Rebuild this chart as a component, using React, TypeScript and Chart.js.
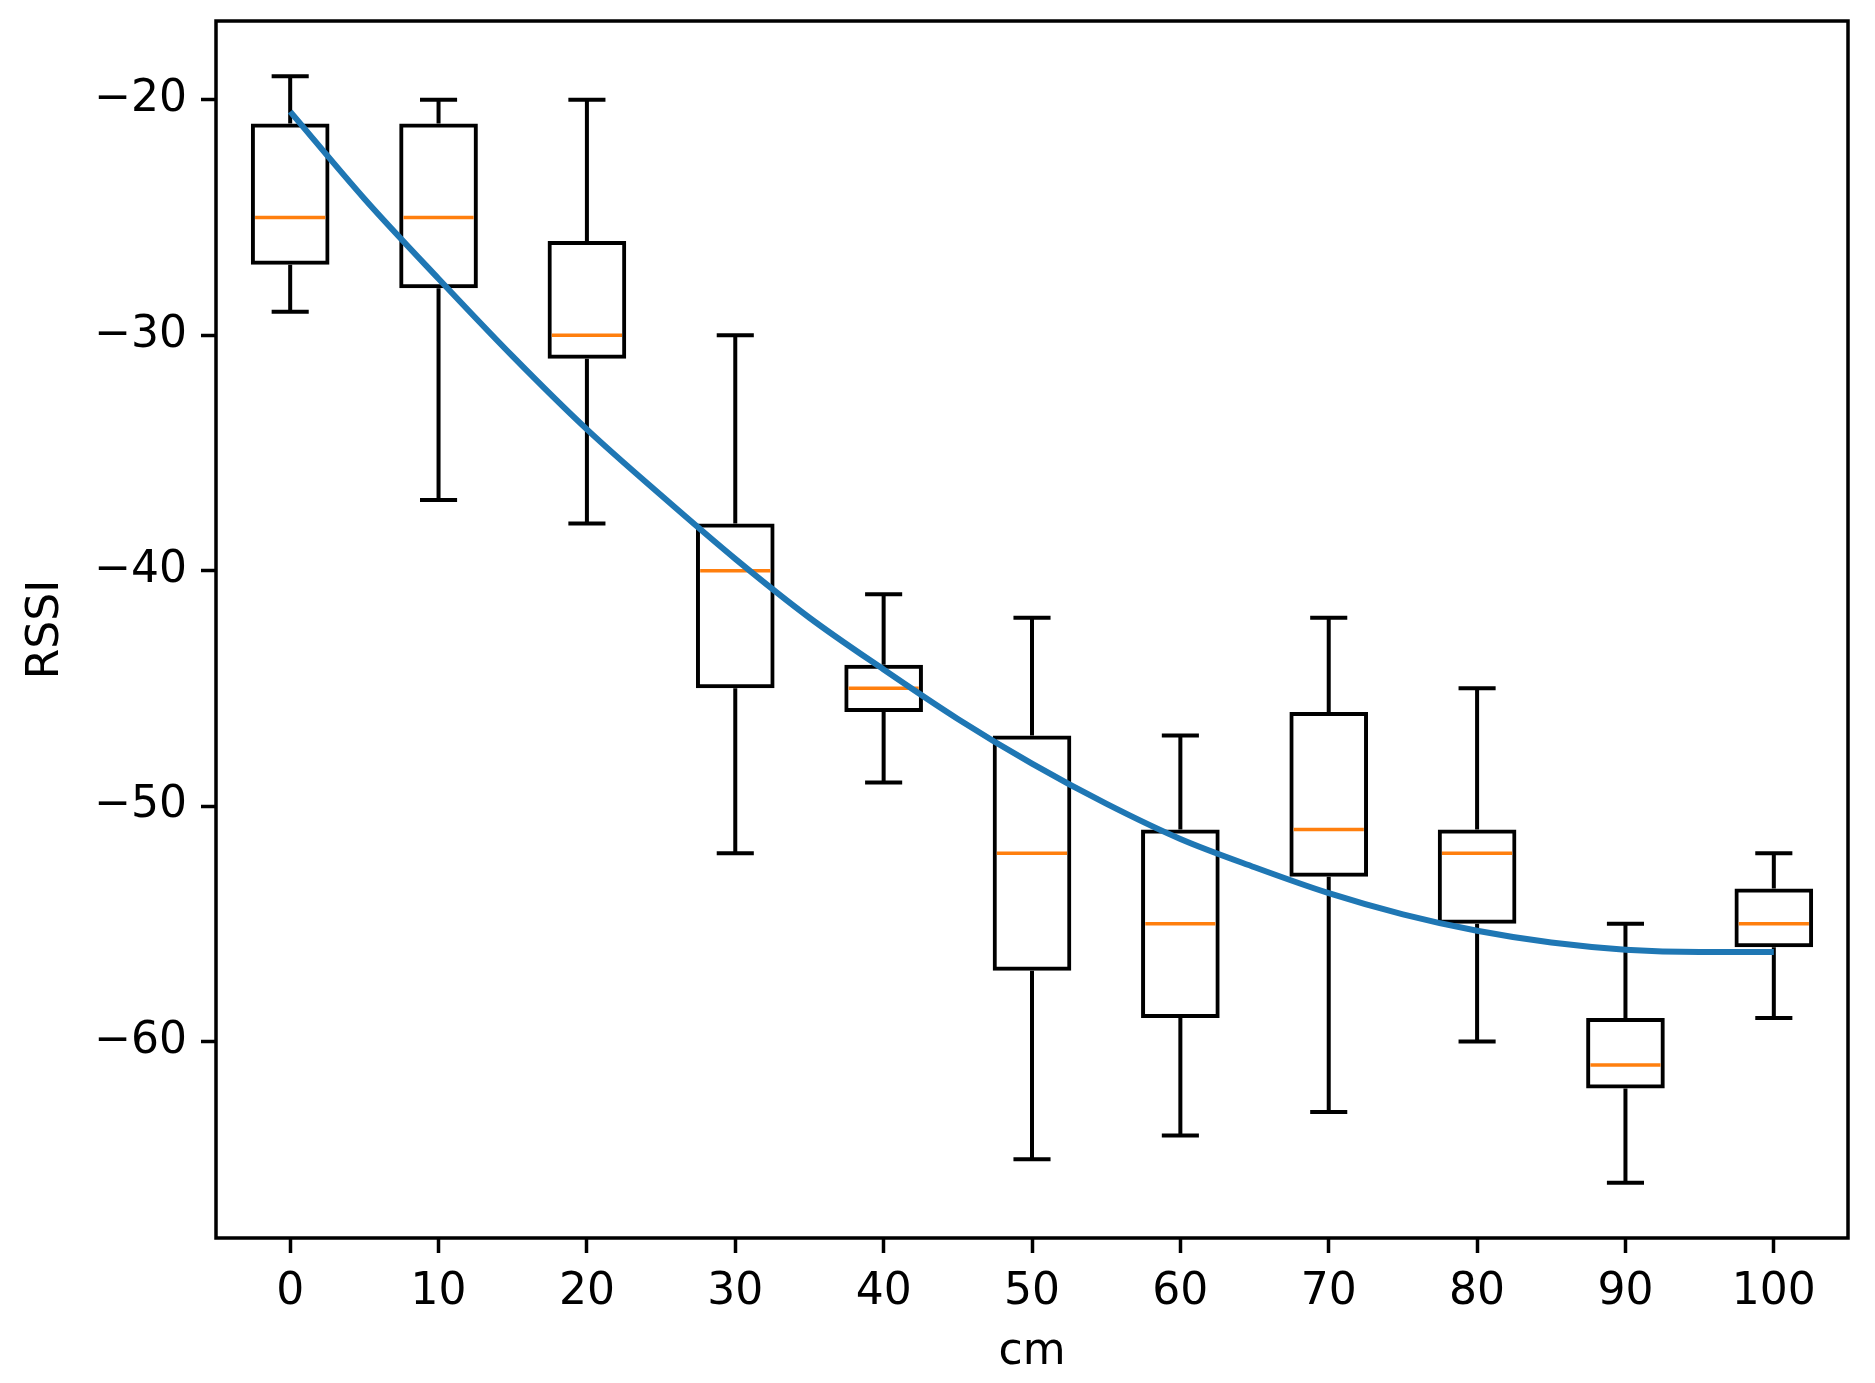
import React, { useEffect, useRef } from 'react';
import { Chart, registerables } from 'chart.js';

Chart.register(...registerables);

// distance categories (cm)
const distances = [0, 10, 20, 30, 40, 50, 60, 70, 80, 90, 100];
// box plot statistics (RSSI)
const whiskerHigh = [-19, -20, -20, -30, -41, -42, -47, -42, -45, -55, -52];
const q3 = [-21, -21, -26, -38, -44, -47, -51, -46, -51, -59, -53.5];
const medians = [-25, -25, -30, -40, -45, -52, -55, -51, -52, -61, -55];
const q1 = [-27, -28, -31, -45, -46, -57, -59, -53, -55, -62, -56];
const whiskerLow = [-29, -37, -38, -52, -49, -65, -64, -63, -60, -66, -59];

// fitted curve
const fitX = [0, 5, 10, 15, 20, 25, 30, 35, 40, 45, 50, 55, 60, 65, 70, 75, 80, 85, 90, 95, 100];
const fitY = [-20.5, -24.2, -27.6, -30.9, -34.0, -36.8, -39.5, -42.0, -44.2, -46.3, -48.2, -49.9, -51.4, -52.6, -53.7, -54.6, -55.3, -55.8, -56.1, -56.2, -56.2];

const xTicks = [0, 10, 20, 30, 40, 50, 60, 70, 80, 90, 100];
const yTicks = [-60, -50, -40, -30, -20];

const FONT = 'DejaVu Sans';
const FS = 44;

const boxPlugin = {
  id: 'boxWhiskers',
  afterDatasetDraw(chart: any, args: any) {
    if (args.index !== 0) return;
    const ctx = chart.ctx;
    const xs = chart.scales.x;
    const ys = chart.scales.y;
    const boxHalf = xs.getPixelForValue(2.5) - xs.getPixelForValue(0);
    const capHalf = xs.getPixelForValue(1.25) - xs.getPixelForValue(0);
    ctx.save();
    ctx.lineCap = 'butt';
    for (let i = 0; i < distances.length; i++) {
      const cx = xs.getPixelForValue(distances[i]);
      const yHi = ys.getPixelForValue(whiskerHigh[i]);
      const yQ3 = ys.getPixelForValue(q3[i]);
      const yQ1 = ys.getPixelForValue(q1[i]);
      const yLo = ys.getPixelForValue(whiskerLow[i]);
      const yMed = ys.getPixelForValue(medians[i]);
      ctx.strokeStyle = '#000';
      ctx.lineWidth = 4;
      ctx.beginPath();
      ctx.moveTo(cx, yQ3);
      ctx.lineTo(cx, yHi);
      ctx.moveTo(cx, yQ1);
      ctx.lineTo(cx, yLo);
      ctx.moveTo(cx - capHalf, yHi);
      ctx.lineTo(cx + capHalf, yHi);
      ctx.moveTo(cx - capHalf, yLo);
      ctx.lineTo(cx + capHalf, yLo);
      ctx.stroke();
      ctx.strokeStyle = '#ff7f0e';
      ctx.lineWidth = 3.5;
      ctx.beginPath();
      ctx.moveTo(cx - boxHalf + 2, yMed);
      ctx.lineTo(cx + boxHalf - 2, yMed);
      ctx.stroke();
    }
    ctx.restore();
  },
};

const framePlugin = {
  id: 'frame',
  afterDraw(chart: any) {
    const { left, top, right, bottom } = chart.chartArea;
    const ctx = chart.ctx;
    ctx.save();
    ctx.strokeStyle = '#000';
    ctx.lineWidth = 3.5;
    ctx.strokeRect(left, top, right - left, bottom - top);
    ctx.restore();
  },
};

const fmt = (v: any) => String(v).replace('-', '\u2212');

export default function App() {
  const ref = useRef<HTMLCanvasElement | null>(null);
  useEffect(() => {
    if (!ref.current) return;
    const chart = new Chart(ref.current, {
      type: 'bar',
      data: {
        datasets: [
          {
            type: 'bar',
            order: 1,
            data: distances.map((d, i) => ({ x: d, y: [q1[i], q3[i]] })) as any,
            backgroundColor: 'rgba(0,0,0,0)',
            borderColor: '#000',
            borderWidth: 4,
            borderSkipped: false,
            barPercentage: 0.53,
            categoryPercentage: 1,
          } as any,
          {
            type: 'line',
            order: 0,
            data: fitX.map((x, i) => ({ x, y: fitY[i] })) as any,
            borderColor: '#1f77b4',
            borderWidth: 6,
            pointRadius: 0,
            fill: false,
            cubicInterpolationMode: 'monotone',
          } as any,
        ],
      },
      options: {
        animation: false,
        responsive: true,
        maintainAspectRatio: false,
        devicePixelRatio: 1,
        layout: { padding: { left: 0, top: 21, right: 27, bottom: 0 } },
        plugins: { legend: { display: false }, tooltip: { enabled: false } },
        scales: {
          x: {
            type: 'linear',
            offset: false,
            min: -5,
            max: 105,
            afterBuildTicks: (s: any) => {
              s.ticks = xTicks.map((v) => ({ value: v }));
            },
            afterFit: (s: any) => {
              s.height = 145;
              s.paddingLeft = 0;
              s.paddingRight = 0;
            },
            ticks: {
              callback: fmt,
              color: '#000',
              font: { family: FONT, size: FS },
              padding: 13,
              maxRotation: 0,
              autoSkip: false,
            },
            grid: {
              display: true,
              offset: false,
              drawOnChartArea: false,
              drawTicks: true,
              tickLength: 15,
              tickColor: '#000',
              tickWidth: 3.5,
            },
            border: { display: false },
            title: {
              display: true,
              text: 'cm',
              color: '#000',
              font: { family: FONT, size: FS },
              padding: { top: 4, bottom: 4 },
            },
          },
          y: {
            type: 'linear',
            min: -68.35,
            max: -16.65,
            afterBuildTicks: (s: any) => {
              s.ticks = yTicks.map((v) => ({ value: v }));
            },
            afterFit: (s: any) => {
              s.width = 216;
              s.paddingTop = 0;
              s.paddingBottom = 0;
            },
            ticks: {
              callback: fmt,
              color: '#000',
              font: { family: FONT, size: FS },
              padding: 14,
              autoSkip: false,
            },
            grid: {
              display: true,
              offset: false,
              drawOnChartArea: false,
              drawTicks: true,
              tickLength: 15,
              tickColor: '#000',
              tickWidth: 3.5,
            },
            border: { display: false },
            title: {
              display: true,
              text: 'RSSI',
              color: '#000',
              font: { family: FONT, size: FS },
              padding: { top: 20, bottom: 20 },
            },
          },
        },
      },
      plugins: [boxPlugin, framePlugin],
    } as any);
    return () => chart.destroy();
  }, []);

  return (
    <div style={{ position: 'absolute', left: 0, top: 0, width: 1875, height: 1383, background: '#fff' }}>
      <canvas ref={ref} />
    </div>
  );
}
